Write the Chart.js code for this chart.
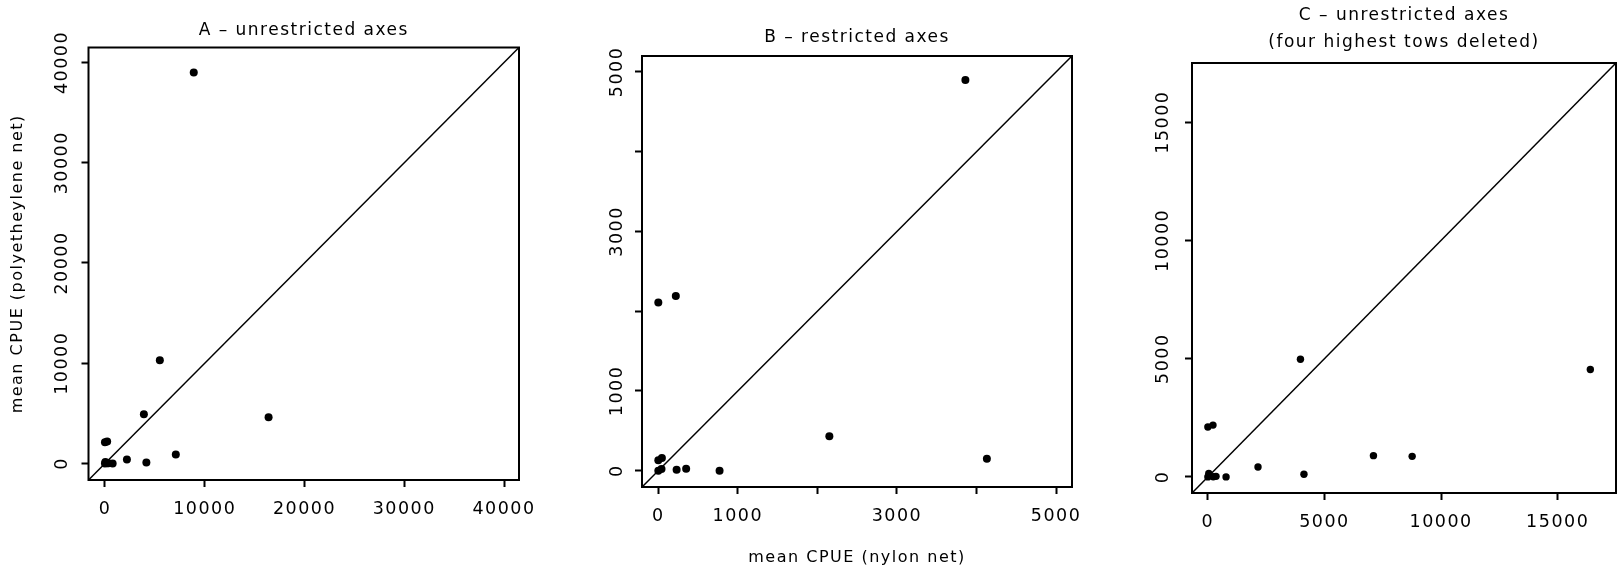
<!DOCTYPE html>
<html>
<head>
<meta charset="utf-8">
<script src="https://cdn.jsdelivr.net/npm/chart.js@4.4.1/dist/chart.umd.min.js"></script>
<style>
  html, body { margin: 0; padding: 0; background: #fff; }
  #wrap { position: relative; width: 1617px; height: 573px; overflow: hidden; }
  .panel { position: absolute; top: 0; height: 573px; }
</style>
</head>
<body>
<div id="wrap">
  <div class="panel" style="left:0;width:540px"><canvas id="chartA" width="540" height="573"></canvas></div>
  <div class="panel" style="left:540px;width:540px"><canvas id="chartB" width="540" height="573"></canvas></div>
  <div class="panel" style="left:1080px;width:540px"><canvas id="chartC" width="540" height="573"></canvas></div>
</div>
<script>
// Valori (mean CPUE nylon net = x, polyethylene net = y)

// A - assi non ristretti
const aX = [8900, 5500, 3900, 16400, 0, 220, 2200, 4150, 7100, 0, 40, 230, 350, 770];
const aY = [39000, 10300, 4900, 4600, 2120, 2200, 400, 100, 900, 0, 150, 10, 25, 0];
const aTicks = [0, 10000, 20000, 30000, 40000];
const aLabels = ['0', '10000', '20000', '30000', '40000'];
const aRange = [-1650, 41500];

// B - assi ristretti
const bX = [3860, 0, 220, 2150, 4130, 0, 40, 0, 45, 230, 350, 770];
const bY = [4900, 2110, 2190, 430, 150, 0, 20, 130, 160, 10, 25, 0];
const bTicks = [0, 1000, 2000, 3000, 4000, 5000];
const bLabels = ['0', '1000', '', '3000', '', '5000'];
const bRange = [-205, 5200];

// C - senza le quattro cale piu alte
const cX = [3970, 16400, 0, 220, 2150, 4120, 7100, 8760, 780, 0, 40, 230, 350];
const cY = [4975, 4540, 2110, 2190, 420, 110, 900, 870, 0, 0, 150, 10, 25];
const cTicks = [0, 5000, 10000, 15000];
const cLabels = ['0', '5000', '10000', '15000'];
const cRange = [-680, 17500];

Chart.defaults.color = '#000';
Chart.defaults.font.family = '"DejaVu Sans", sans-serif';

// spaziatura larga delle lettere, come il font del plotter
const spacing = {
  id: 'spacing',
  beforeDraw(chart) {
    chart.ctx.letterSpacing = '1.5px';
  }
};

// riquadro attorno all'area del grafico
const frame = {
  id: 'frame',
  afterDraw(chart) {
    const a = chart.chartArea;
    const ctx = chart.ctx;
    ctx.save();
    ctx.strokeStyle = '#000';
    ctx.lineWidth = 2;
    ctx.strokeRect(a.left, a.top, a.right - a.left, a.bottom - a.top);
    ctx.restore();
  }
};

// etichette dell'asse y ruotate di 90 gradi (stile R)
const sideLabels = {
  id: 'sideLabels',
  afterDraw(chart, args, opts) {
    const y = chart.scales.y;
    const ctx = chart.ctx;
    ctx.save();
    ctx.font = '17.5px "DejaVu Sans"';
    ctx.fillStyle = '#000';
    ctx.textAlign = 'center';
    ctx.textBaseline = 'middle';
    y.ticks.forEach((t, i) => {
      const txt = opts.labels[i];
      if (!txt) return;
      ctx.save();
      ctx.translate(chart.chartArea.left - opts.offset, y.getPixelForValue(t.value));
      ctx.rotate(-Math.PI / 2);
      ctx.fillText(txt, 0, 0);
      ctx.restore();
    });
    ctx.restore();
  }
};

function pairs(xs, ys) {
  return xs.map((x, i) => ({ x: x, y: ys[i] }));
}

function newPanel(id, p) {
  const fixTicks = axis => { axis.ticks = p.ticks.map(v => ({ value: v })); };
  const grid = { display: true, drawOnChartArea: false, drawTicks: true, tickLength: 7, tickWidth: 2, tickColor: '#000' };
  return new Chart(document.getElementById(id), {
    data: {
      datasets: [{
        type: 'scatter',
        data: pairs(p.xs, p.ys),
        backgroundColor: '#000',
        borderWidth: 0,
        pointRadius: p.radius,
        order: 1
      }, {
        // retta y = x
        type: 'line',
        data: pairs(p.range, p.range),
        borderColor: '#000',
        borderWidth: 1.5,
        pointRadius: 0,
        fill: false,
        order: 2
      }]
    },
    options: {
      responsive: false,
      animation: false,
      layout: { padding: { left: 0, right: p.padRight, top: 0, bottom: 0 } },
      plugins: {
        legend: { display: false },
        tooltip: { enabled: false },
        title: {
          display: true,
          fullSize: false,
          text: p.title,
          font: { size: 17, weight: 'normal', lineHeight: p.titleLine },
          padding: p.titlePad
        },
        sideLabels: { labels: p.labels, offset: p.labelOffset }
      },
      scales: {
        x: {
          type: 'linear',
          min: p.range[0],
          max: p.range[1],
          afterBuildTicks: fixTicks,
          afterFit: s => { s.height = p.xHeight; s.paddingLeft = 0; s.paddingRight = 0; },
          grid: grid,
          border: { display: false },
          ticks: {
            autoSkip: false,
            maxRotation: 0,
            padding: 12,
            font: { size: 17.5 },
            callback: (v, i) => p.labels[i]
          },
          title: {
            display: !!p.xTitle,
            text: p.xTitle || '',
            font: { size: 16 },
            padding: { top: 0, bottom: 6 }
          }
        },
        y: {
          type: 'linear',
          min: p.range[0],
          max: p.range[1],
          afterBuildTicks: fixTicks,
          afterFit: s => { s.width = p.yWidth; s.paddingTop = 0; s.paddingBottom = 0; },
          grid: grid,
          border: { display: false },
          ticks: { display: false },
          title: {
            display: !!p.yTitle,
            text: p.yTitle || '',
            font: { size: 16 },
            padding: { top: 8, bottom: 0 }
          }
        }
      }
    },
    plugins: [spacing, frame, sideLabels]
  });
}

newPanel('chartA', {
  xs: aX, ys: aY, ticks: aTicks, labels: aLabels, range: aRange, radius: 4,
  title: 'A \u2013 unrestricted axes', titleLine: 1.2, titlePad: { top: 20.8, bottom: 6.3 },
  yTitle: 'mean CPUE (polyetheylene net)',
  padRight: 21, yWidth: 88.5, xHeight: 93, labelOffset: 26.5
});

newPanel('chartB', {
  xs: bX, ys: bY, ticks: bTicks, labels: bLabels, range: bRange, radius: 4,
  title: 'B \u2013 restricted axes', titleLine: 1.2, titlePad: { top: 27.8, bottom: 7.8 },
  xTitle: 'mean CPUE (nylon net)',
  padRight: 8, yWidth: 102, xHeight: 86, labelOffset: 24.5
});

newPanel('chartC', {
  xs: cX, ys: cY, ticks: cTicks, labels: cLabels, range: cRange, radius: 3.7,
  title: ['C \u2013 unrestricted axes', '(four highest tows deleted)'], titleLine: 1.6, titlePad: { top: 1.9, bottom: 6.7 },
  padRight: 2, yWidth: 112, xHeight: 80, labelOffset: 29
});
</script>
</body>
</html>
